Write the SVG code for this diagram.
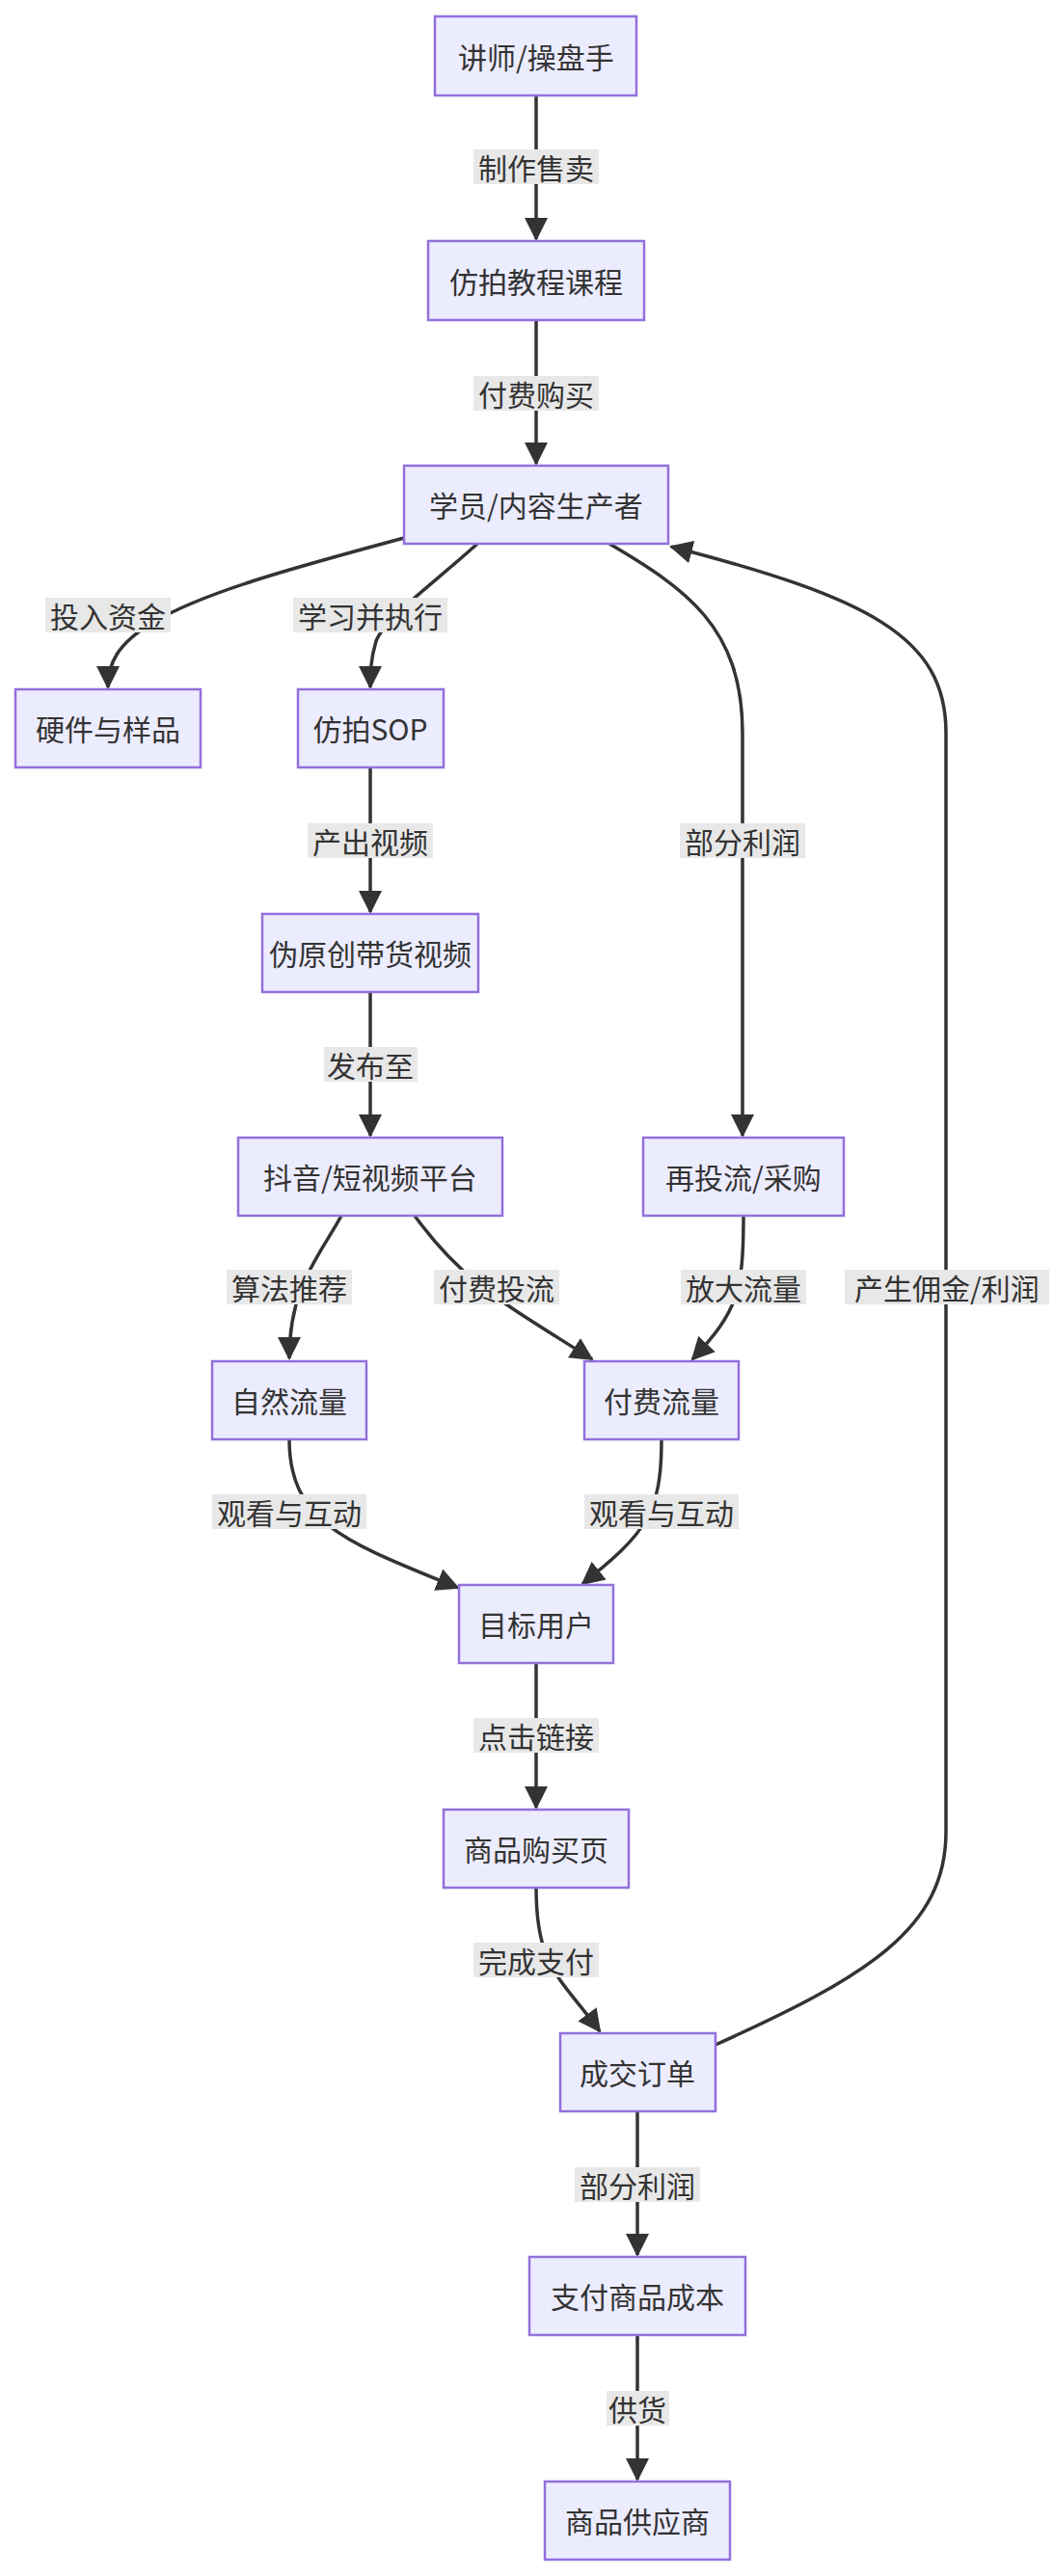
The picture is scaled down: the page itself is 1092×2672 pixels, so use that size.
<svg xmlns="http://www.w3.org/2000/svg" width="1092" height="2672" viewBox="0 0 1092 2672">
<style>
.n rect{fill:#ECECFF;stroke:#9370DB;stroke-width:2.5}
text{font-family:"Noto Sans CJK SC","Noto Sans",sans-serif;font-size:30px;fill:#333;text-anchor:middle;dominant-baseline:central}
.e path{fill:none;stroke:#333;stroke-width:3.5}
.l rect{fill:#e8e8e8}
</style>
<defs><marker id="a" markerUnits="userSpaceOnUse" markerWidth="24" markerHeight="24" refX="22" refY="12" orient="auto"><path d="M0,0L24,12L0,24z" fill="#333"/></marker></defs>
<rect width="1092" height="2672" fill="#fff"/>
<g class="e">
<path d="M556,99V248" marker-end="url(#a)"/>
<path d="M556,332V481" marker-end="url(#a)"/>
<path d="M419,558C300,590 210,615 160,645C120,668 112,690 112,713" marker-end="url(#a)"/>
<path d="M495,564C450,605 400,640 390,665C384,685 384,700 384,713" marker-end="url(#a)"/>
<path d="M632,564C710,610 770,650 770,760V1178" marker-end="url(#a)"/>
<path d="M384,796V946" marker-end="url(#a)"/>
<path d="M384,1029V1178" marker-end="url(#a)"/>
<path d="M354,1261C330,1305 300,1335 300,1409" marker-end="url(#a)"/>
<path d="M430,1261C480,1330 520,1350 614,1410" marker-end="url(#a)"/>
<path d="M771,1261C771,1340 765,1360 718,1410" marker-end="url(#a)"/>
<path d="M300,1493C300,1580 360,1600 475,1647" marker-end="url(#a)"/>
<path d="M686,1493C686,1570 670,1590 604,1643" marker-end="url(#a)"/>
<path d="M556,1725V1875" marker-end="url(#a)"/>
<path d="M556,1958C556,2040 580,2050 622,2107" marker-end="url(#a)"/>
<path d="M661,2190V2339" marker-end="url(#a)"/>
<path d="M661,2422V2572" marker-end="url(#a)"/>
<path d="M742,2121C900,2050 981,2000 981,1900V760C981,660 900,620 696,567" marker-end="url(#a)"/>
</g>
<g class="l">
<g><rect x="491" y="155" width="130" height="36"/><text x="556" y="173">制作售卖</text></g>
<g><rect x="491" y="390" width="130" height="36"/><text x="556" y="408">付费购买</text></g>
<g><rect x="47" y="620" width="130" height="36"/><text x="112" y="638">投入资金</text></g>
<g><rect x="304" y="620" width="160" height="36"/><text x="384" y="638">学习并执行</text></g>
<g><rect x="319" y="854" width="130" height="36"/><text x="384" y="872">产出视频</text></g>
<g><rect x="705" y="854" width="130" height="36"/><text x="770" y="872">部分利润</text></g>
<g><rect x="336" y="1086" width="97" height="36"/><text x="384" y="1104">发布至</text></g>
<g><rect x="235" y="1317" width="130" height="36"/><text x="300" y="1335">算法推荐</text></g>
<g><rect x="450" y="1317" width="130" height="36"/><text x="515" y="1335">付费投流</text></g>
<g><rect x="706" y="1317" width="130" height="36"/><text x="771" y="1335">放大流量</text></g>
<g><rect x="876" y="1317" width="212" height="36"/><text x="982" y="1335">产生佣金/利润</text></g>
<g><rect x="220" y="1550" width="160" height="36"/><text x="300" y="1568">观看与互动</text></g>
<g><rect x="606" y="1550" width="160" height="36"/><text x="686" y="1568">观看与互动</text></g>
<g><rect x="491" y="1782" width="130" height="36"/><text x="556" y="1800">点击链接</text></g>
<g><rect x="491" y="2015" width="130" height="36"/><text x="556" y="2033">完成支付</text></g>
<g><rect x="596" y="2248" width="130" height="36"/><text x="661" y="2266">部分利润</text></g>
<g><rect x="629" y="2480" width="65" height="36"/><text x="661" y="2498">供货</text></g>
</g>
<g class="n" id="n1"><rect x="451" y="17" width="209" height="82"/><text x="556" y="58">讲师/操盘手</text></g>
<g class="n" id="n2"><rect x="444" y="250" width="224" height="82"/><text x="556" y="291">仿拍教程课程</text></g>
<g class="n" id="n3"><rect x="419" y="483" width="274" height="81"/><text x="556" y="523">学员/内容生产者</text></g>
<g class="n" id="n4"><rect x="16" y="715" width="192" height="81"/><text x="112" y="755">硬件与样品</text></g>
<g class="n" id="n5"><rect x="309" y="715" width="151" height="81"/><text x="384" y="755">仿拍SOP</text></g>
<g class="n" id="n6"><rect x="272" y="948" width="224" height="81"/><text x="384" y="988">伪原创带货视频</text></g>
<g class="n" id="n7"><rect x="247" y="1180" width="274" height="81"/><text x="384" y="1220">抖音/短视频平台</text></g>
<g class="n" id="n8"><rect x="667" y="1180" width="208" height="81"/><text x="771" y="1220">再投流/采购</text></g>
<g class="n" id="n9"><rect x="220" y="1412" width="160" height="81"/><text x="300" y="1452">自然流量</text></g>
<g class="n" id="n10"><rect x="606" y="1412" width="160" height="81"/><text x="686" y="1452">付费流量</text></g>
<g class="n" id="n11"><rect x="476" y="1644" width="160" height="81"/><text x="556" y="1684">目标用户</text></g>
<g class="n" id="n12"><rect x="460" y="1877" width="192" height="81"/><text x="556" y="1917">商品购买页</text></g>
<g class="n" id="n13"><rect x="581" y="2109" width="161" height="81"/><text x="661" y="2149">成交订单</text></g>
<g class="n" id="n14"><rect x="549" y="2341" width="224" height="81"/><text x="661" y="2381">支付商品成本</text></g>
<g class="n" id="n15"><rect x="565" y="2574" width="192" height="81"/><text x="661" y="2614">商品供应商</text></g>
</svg>
